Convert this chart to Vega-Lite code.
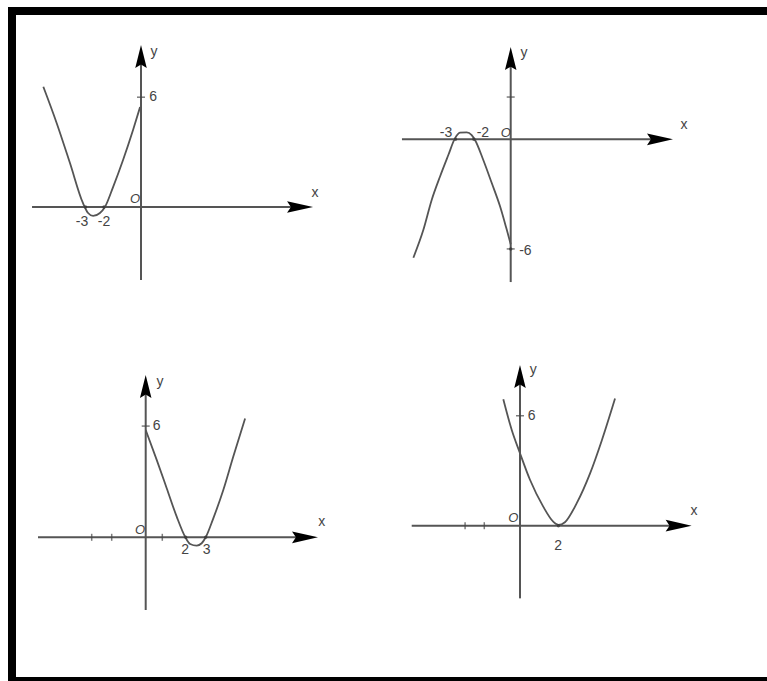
{
  "$schema": "https://vega.github.io/schema/vega-lite/v6.json",
  "background": "white",
  "padding": {"left": 8, "top": 7, "right": 0, "bottom": 0},
  "config": {"view": {"stroke": null}, "concat": {"spacing": 0}},
  "spacing": 0,
  "vconcat": [
    {
      "spacing": 0,
      "bounds": "flush",
      "hconcat": [
        {
          "width": 382, "height": 313,
          "encoding": {
            "x": {"field": "x", "type": "quantitative", "scale": {"domain": [-7.189, 13.459], "nice": false, "zero": false}, "axis": null},
            "y": {"field": "y", "type": "quantitative", "scale": {"domain": [-6.175, 10.929], "nice": false, "zero": false}, "axis": null}
          },
          "layer": [
            {"data": {"values": [{"x": -6.973, "y": -7, "x2": -6.973, "y2": 12}, {"x": -8, "y": 10.710, "x2": 15, "y2": 10.710}]},
             "mark": {"type": "rule", "color": "black", "strokeWidth": 8, "clip": true},
             "encoding": {"x2": {"field": "x2"}, "y2": {"field": "y2"}}},
            {"data": {"values": [{"x": -5.89, "y": 0, "x2": 8.6, "y2": 0}, {"x": 0, "y": -3.99, "x2": 0, "y2": 8.2}]},
             "mark": {"type": "rule", "color": "#555", "strokeWidth": 2},
             "encoding": {"x2": {"field": "x2"}, "y2": {"field": "y2"}}},
            {"data": {"values": [{"x": 0, "y": 6}]},
             "mark": {"type": "tick", "orient": "horizontal", "size": 8, "thickness": 1.5, "color": "#444"}},
            {"data": {"values": [
              {"x": -5.28, "y": 6.57}, {"x": -4.56, "y": 4.59}, {"x": -3.84, "y": 2.40}, {"x": -3.14, "y": 0.22},
              {"x": -2.86, "y": -0.33}, {"x": -2.59, "y": -0.49}, {"x": -2.22, "y": -0.33}, {"x": -1.95, "y": 0},
              {"x": -1.51, "y": 1.09}, {"x": -0.97, "y": 2.57}, {"x": -0.43, "y": 4.21}, {"x": -0.05, "y": 5.46}
            ]},
             "mark": {"type": "line", "color": "#555", "strokeWidth": 1.8, "interpolate": "monotone"}},
            {"data": {"values": [{"x": -3, "y": 0}, {"x": -2, "y": 0}]},
             "mark": {"type": "point", "filled": true, "color": "#333", "size": 12}},
            {"data": {"values": [{"x": 9.30, "y": 0}]},
             "mark": {"type": "point", "shape": "M0,0 L-2,-0.45 L-1.7,0 L-2,0.45 Z", "filled": true, "color": "black", "size": 676, "opacity": 1}},
            {"data": {"values": [{"x": 0, "y": 8.85}]},
             "mark": {"type": "point", "shape": "M0,0 L-0.5,2 L0,1.7 L0.5,2 Z", "filled": true, "color": "black", "size": 529, "opacity": 1}},
            {"data": {"values": [
              {"x": 0.70, "y": 8.47, "t": "y"}, {"x": 9.41, "y": 0.77, "t": "x"}, {"x": 0.65, "y": 6.01, "t": "6"},
              {"x": -3.19, "y": -0.82, "t": "-3"}, {"x": -2.0, "y": -0.82, "t": "-2"}
            ]},
             "mark": {"type": "text", "font": "Liberation Sans", "fontSize": 14, "color": "#444", "align": "center", "baseline": "middle"},
             "encoding": {"text": {"field": "t"}}},
            {"data": {"values": [{"x": -0.32, "y": 0.44, "t": "O"}]},
             "mark": {"type": "text", "font": "Liberation Sans", "fontSize": 13, "fontStyle": "italic", "color": "#444", "align": "center", "baseline": "middle"},
             "encoding": {"text": {"field": "t"}}}
          ]
        },
        {
          "width": 377, "height": 313,
          "encoding": {
            "x": {"field": "x", "type": "quantitative", "scale": {"domain": [-6.560, 13.929], "nice": false, "zero": false}, "axis": null},
            "y": {"field": "y", "type": "quantitative", "scale": {"domain": [-9.874, 7.230], "nice": false, "zero": false}, "axis": null}
          },
          "layer": [
            {"data": {"values": [{"x": -8, "y": 7.011, "x2": 15, "y2": 7.011}]},
             "mark": {"type": "rule", "color": "black", "strokeWidth": 8, "clip": true},
             "encoding": {"x2": {"field": "x2"}, "y2": {"field": "y2"}}},
            {"data": {"values": [{"x": -5.91, "y": 0, "x2": 8.1, "y2": 0}, {"x": 0, "y": -7.80, "x2": 0, "y2": 4.4}]},
             "mark": {"type": "rule", "color": "#555", "strokeWidth": 2},
             "encoding": {"x2": {"field": "x2"}, "y2": {"field": "y2"}}},
            {"data": {"values": [{"x": 0, "y": 2.31}, {"x": 0, "y": -5.99}]},
             "mark": {"type": "tick", "orient": "horizontal", "size": 8, "thickness": 1.5, "color": "#444"}},
            {"data": {"values": [
              {"x": -5.29, "y": -6.47}, {"x": -4.75, "y": -4.96}, {"x": -4.29, "y": -3.30}, {"x": -3.84, "y": -2.03},
              {"x": -3.39, "y": -0.86}, {"x": -3.03, "y": 0.05}, {"x": -2.76, "y": 0.36}, {"x": -2.39, "y": 0.38},
              {"x": -2.12, "y": 0.23}, {"x": -1.94, "y": -0.04}, {"x": -1.49, "y": -1.13}, {"x": -1.03, "y": -2.39},
              {"x": -0.58, "y": -3.66}, {"x": -0.22, "y": -4.92}, {"x": 0, "y": -5.73}
            ]},
             "mark": {"type": "line", "color": "#555", "strokeWidth": 1.8, "interpolate": "monotone"}},
            {"data": {"values": [{"x": -3, "y": 0}, {"x": -2, "y": 0}, {"x": 0, "y": -6}]},
             "mark": {"type": "point", "filled": true, "color": "#333", "size": 12}},
            {"data": {"values": [{"x": 8.82, "y": 0}]},
             "mark": {"type": "point", "shape": "M0,0 L-2,-0.45 L-1.7,0 L-2,0.45 Z", "filled": true, "color": "black", "size": 676, "opacity": 1}},
            {"data": {"values": [{"x": 0, "y": 5.04}]},
             "mark": {"type": "point", "shape": "M0,0 L-0.5,2 L0,1.7 L0.5,2 Z", "filled": true, "color": "black", "size": 529, "opacity": 1}},
            {"data": {"values": [
              {"x": 0.72, "y": 4.72, "t": "y"}, {"x": 9.42, "y": 0.78, "t": "x"}, {"x": -3.52, "y": 0.34, "t": "-3"},
              {"x": -1.51, "y": 0.34, "t": "-2"}, {"x": 0.80, "y": -6.10, "t": "-6"}
            ]},
             "mark": {"type": "text", "font": "Liberation Sans", "fontSize": 14, "color": "#444", "align": "center", "baseline": "middle"},
             "encoding": {"text": {"field": "t"}}},
            {"data": {"values": [{"x": -0.26, "y": 0.34, "t": "O"}]},
             "mark": {"type": "text", "font": "Liberation Sans", "fontSize": 13, "fontStyle": "italic", "color": "#444", "align": "center", "baseline": "middle"},
             "encoding": {"text": {"field": "t"}}}
          ]
        }
      ]
    },
    {
      "spacing": 0,
      "bounds": "flush",
      "hconcat": [
        {
          "width": 382, "height": 361,
          "encoding": {
            "x": {"field": "x", "type": "quantitative", "scale": {"domain": [-6.885, 12.215], "nice": false, "zero": false}, "axis": null},
            "y": {"field": "y", "type": "quantitative", "scale": {"domain": [-7.726, 11.683], "nice": false, "zero": false}, "axis": null}
          },
          "layer": [
            {"data": {"values": [{"x": -6.685, "y": -9, "x2": -6.685, "y2": 13}]},
             "mark": {"type": "rule", "color": "black", "strokeWidth": 8, "clip": true},
             "encoding": {"x2": {"field": "x2"}, "y2": {"field": "y2"}}},
            {"data": {"values": [{"x": -8, "y": -7.618, "x2": 14, "y2": -7.618}]},
             "mark": {"type": "rule", "color": "black", "strokeWidth": 4, "clip": true},
             "encoding": {"x2": {"field": "x2"}, "y2": {"field": "y2"}}},
            {"data": {"values": [{"x": -5.385, "y": 0, "x2": 7.9, "y2": 0}, {"x": 0, "y": -3.91, "x2": 0, "y2": 8.1}]},
             "mark": {"type": "rule", "color": "#555", "strokeWidth": 2},
             "encoding": {"x2": {"field": "x2"}, "y2": {"field": "y2"}}},
            {"data": {"values": [{"x": -2.7, "y": 0}, {"x": -1.7, "y": 0}, {"x": 0.83, "y": 0}]},
             "mark": {"type": "tick", "orient": "vertical", "size": 7, "thickness": 1.5, "color": "#444"}},
            {"data": {"values": [{"x": 0, "y": 5.98}]},
             "mark": {"type": "tick", "orient": "horizontal", "size": 8, "thickness": 1.5, "color": "#444"}},
            {"data": {"values": [
              {"x": 0, "y": 5.77}, {"x": 0.55, "y": 4.16}, {"x": 1.05, "y": 2.64}, {"x": 1.55, "y": 1.11},
              {"x": 1.97, "y": 0.03}, {"x": 2.22, "y": -0.36}, {"x": 2.55, "y": -0.45}, {"x": 2.80, "y": -0.32},
              {"x": 3.0, "y": 0}, {"x": 3.38, "y": 1.02}, {"x": 3.88, "y": 2.54}, {"x": 4.38, "y": 4.34}, {"x": 4.97, "y": 6.39}
            ]},
             "mark": {"type": "line", "color": "#555", "strokeWidth": 1.8, "interpolate": "monotone"}},
            {"data": {"values": [{"x": 2, "y": 0}, {"x": 3, "y": 0}]},
             "mark": {"type": "point", "filled": true, "color": "#333", "size": 12}},
            {"data": {"values": [{"x": 8.615, "y": 0}]},
             "mark": {"type": "point", "shape": "M0,0 L-2,-0.45 L-1.7,0 L-2,0.45 Z", "filled": true, "color": "black", "size": 676, "opacity": 1}},
            {"data": {"values": [{"x": 0, "y": 8.73}]},
             "mark": {"type": "point", "shape": "M0,0 L-0.5,2 L0,1.7 L0.5,2 Z", "filled": true, "color": "black", "size": 529, "opacity": 1}},
            {"data": {"values": [
              {"x": 0.715, "y": 8.35, "t": "y"}, {"x": 8.8, "y": 0.84, "t": "x"}, {"x": 0.55, "y": 5.98, "t": "6"},
              {"x": 1.97, "y": -0.68, "t": "2"}, {"x": 3.05, "y": -0.68, "t": "3"}
            ]},
             "mark": {"type": "text", "font": "Liberation Sans", "fontSize": 14, "color": "#444", "align": "center", "baseline": "middle"},
             "encoding": {"text": {"field": "t"}}},
            {"data": {"values": [{"x": -0.285, "y": 0.39, "t": "O"}]},
             "mark": {"type": "text", "font": "Liberation Sans", "fontSize": 13, "fontStyle": "italic", "color": "#444", "align": "center", "baseline": "middle"},
             "encoding": {"text": {"field": "t"}}}
          ]
        },
        {
          "width": 377, "height": 361,
          "encoding": {
            "x": {"field": "x", "type": "quantitative", "scale": {"domain": [-6.771, 12.865], "nice": false, "zero": false}, "axis": null},
            "y": {"field": "y", "type": "quantitative", "scale": {"domain": [-8.486, 11.240], "nice": false, "zero": false}, "axis": null}
          },
          "layer": [
            {"data": {"values": [{"x": -8, "y": -8.377, "x2": 14, "y2": -8.377}]},
             "mark": {"type": "rule", "color": "black", "strokeWidth": 4, "clip": true},
             "encoding": {"x2": {"field": "x2"}, "y2": {"field": "y2"}}},
            {"data": {"values": [{"x": -5.64, "y": 0, "x2": 8.2, "y2": 0}, {"x": 0, "y": -3.97, "x2": 0, "y2": 8.15}]},
             "mark": {"type": "rule", "color": "#555", "strokeWidth": 2},
             "encoding": {"x2": {"field": "x2"}, "y2": {"field": "y2"}}},
            {"data": {"values": [{"x": -2.86, "y": 0}, {"x": -1.86, "y": 0}]},
             "mark": {"type": "tick", "orient": "vertical", "size": 7, "thickness": 1.5, "color": "#444"}},
            {"data": {"values": [{"x": 0, "y": 6.01}]},
             "mark": {"type": "tick", "orient": "horizontal", "size": 8, "thickness": 1.5, "color": "#444"}},
            {"data": {"values": [
              {"x": -0.87, "y": 6.91}, {"x": -0.43, "y": 5.23}, {"x": 0, "y": 3.96}, {"x": 0.52, "y": 2.51},
              {"x": 1.21, "y": 1.04}, {"x": 1.73, "y": 0.22}, {"x": 2.0, "y": 0.04}, {"x": 2.34, "y": 0.19},
              {"x": 2.95, "y": 1.22}, {"x": 3.65, "y": 2.86}, {"x": 4.26, "y": 4.66}, {"x": 4.95, "y": 6.95}
            ]},
             "mark": {"type": "line", "color": "#555", "strokeWidth": 1.8, "interpolate": "monotone"}},
            {"data": {"values": [{"x": 2, "y": 0}]},
             "mark": {"type": "point", "filled": true, "color": "#333", "size": 12}},
            {"data": {"values": [{"x": 8.94, "y": 0}]},
             "mark": {"type": "point", "shape": "M0,0 L-2,-0.45 L-1.7,0 L-2,0.45 Z", "filled": true, "color": "black", "size": 676, "opacity": 1}},
            {"data": {"values": [{"x": 0, "y": 8.78}]},
             "mark": {"type": "point", "shape": "M0,0 L-0.5,2 L0,1.7 L0.5,2 Z", "filled": true, "color": "black", "size": 529, "opacity": 1}},
            {"data": {"values": [
              {"x": 0.69, "y": 8.51, "t": "y"}, {"x": 9.06, "y": 0.82, "t": "x"}, {"x": 0.61, "y": 6.01, "t": "6"},
              {"x": 1.99, "y": -1.09, "t": "2"}
            ]},
             "mark": {"type": "text", "font": "Liberation Sans", "fontSize": 14, "color": "#444", "align": "center", "baseline": "middle"},
             "encoding": {"text": {"field": "t"}}},
            {"data": {"values": [{"x": -0.35, "y": 0.40, "t": "O"}]},
             "mark": {"type": "text", "font": "Liberation Sans", "fontSize": 13, "fontStyle": "italic", "color": "#444", "align": "center", "baseline": "middle"},
             "encoding": {"text": {"field": "t"}}}
          ]
        }
      ]
    }
  ]
}
